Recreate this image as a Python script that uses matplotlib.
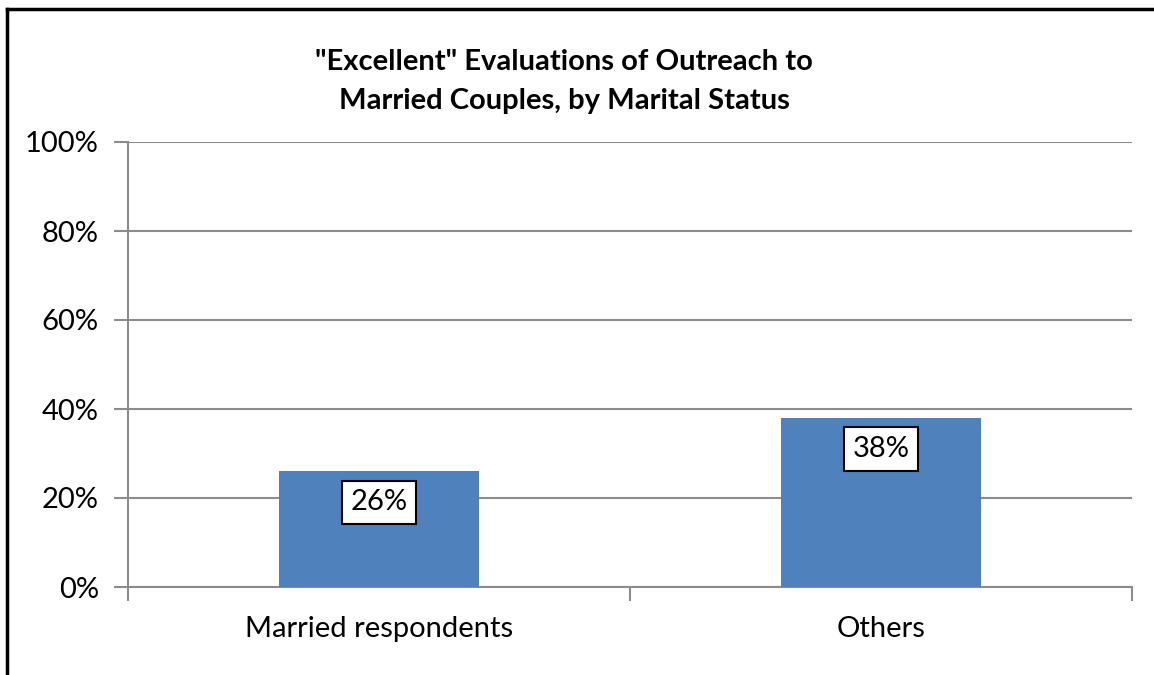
import numpy as np
import matplotlib
matplotlib.use("Agg")
import matplotlib.pyplot as plt
from matplotlib.lines import Line2D

categories = ["Married respondents", "Others"]
values = [26, 38]
yticks = [0, 20, 40, 60, 80, 100]
title_lines = ['"Excellent" Evaluations of Outreach to', 'Married Couples, by Marital Status']

plt.rcParams['font.family'] = ['Lato', 'DejaVu Sans']

fig = plt.figure(figsize=(11.54, 6.75), dpi=100)
ax = fig.add_axes([128 / 1154, 1 - 587 / 675, (1132 - 128) / 1154, (587 - 142) / 675])

x = np.arange(len(categories))
ax.bar(x, values, width=0.4, color='#4f81bd', zorder=3)
ax.set_xlim(-0.5, len(categories) - 0.5)
ax.set_ylim(0, 100)
ax.set_yticks(yticks)
ax.set_yticklabels([f"{v}%" for v in yticks], fontsize=21)
ax.set_xticks(x)
ax.set_xticklabels(categories, fontsize=21)
ax.set_xticks([-0.5, 0.5, 1.5], minor=True)
ax.tick_params(axis='x', which='major', length=0, pad=21)
ax.tick_params(axis='x', which='minor', length=10, color='#8c8c8c', width=1.5)
ax.tick_params(axis='y', length=10, color='#8c8c8c', width=1.5, pad=11)
ax.grid(axis='y', color='#8c8c8c', linewidth=1.5, zorder=0)
for s in ['top', 'right']:
    ax.spines[s].set_visible(False)
for s in ['left', 'bottom']:
    ax.spines[s].set_color('#8c8c8c')
    ax.spines[s].set_linewidth(1.5)

for xi, v in zip(x, values):
    ax.text(xi, v - 7, f"{v}%", ha='center', va='center', fontsize=21, zorder=4,
            bbox=dict(boxstyle='square,pad=0.3', facecolor='white', edgecolor='black', linewidth=1.5))

# two title lines, placed separately for spacing
for line, ypix in zip(title_lines, [62, 101]):
    fig.text(564 / 1154, 1 - ypix / 675, line, ha='center', va='center',
             fontsize=21, fontweight='bold')

# outer frame (top and left edges)
fig.add_artist(Line2D([7 / 1154, 1], [1 - 9 / 675, 1 - 9 / 675], color='black', linewidth=2.5))
fig.add_artist(Line2D([7 / 1154, 7 / 1154], [0, 1 - 9 / 675], color='black', linewidth=2.5))

fig.savefig("out.png", dpi=100)
